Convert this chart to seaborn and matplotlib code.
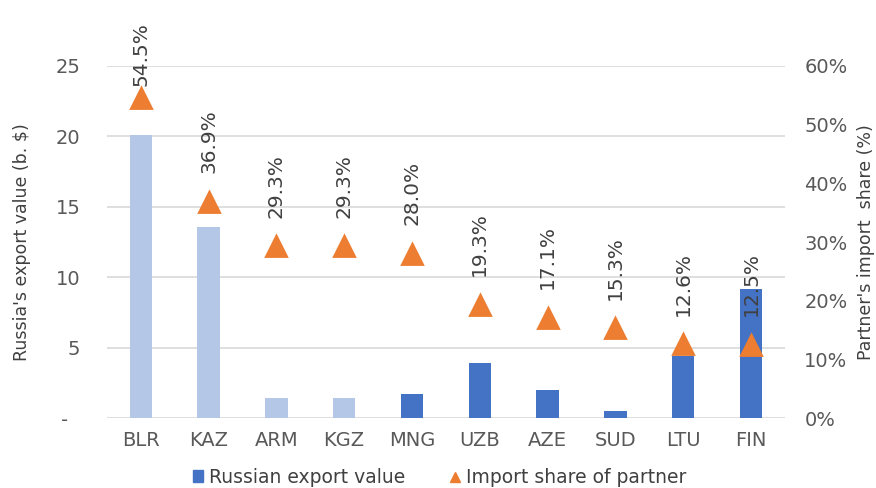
import pandas as pd
import matplotlib.pyplot as plt
import seaborn as sns
from matplotlib.lines import Line2D
from matplotlib.patches import Patch
from matplotlib.ticker import FuncFormatter, PercentFormatter

countries = ['BLR', 'KAZ', 'ARM', 'KGZ', 'MNG', 'UZB', 'AZE', 'SUD', 'LTU', 'FIN']
export_value = [20.1, 13.6, 1.4, 1.4, 1.7, 3.9, 2.0, 0.5, 4.4, 9.2]
import_share = [54.5, 36.9, 29.3, 29.3, 28.0, 19.3, 17.1, 15.3, 12.6, 12.5]
eeu_member = [True, True, True, True, False, False, False, False, False, False]

light_blue = '#b4c7e7'
blue = '#4472c4'
orange = '#ed7d31'
text_col = '#404040'
tick_col = '#595959'

df = pd.DataFrame({'country': countries, 'export': export_value,
                   'share': import_share, 'eeu': eeu_member})
palette = {c: (light_blue if m else blue) for c, m in zip(countries, eeu_member)}

sns.set_style('white')
plt.rcParams['font.family'] = ['DejaVu Sans']

fig = plt.figure(figsize=(8.76, 4.88), dpi=100)
ax = fig.add_axes([0.122, 0.143, 0.774, 0.722])

sns.barplot(data=df, x='country', y='export', hue='country', palette=palette,
            width=0.33, saturation=1, legend=False, linewidth=0, ax=ax, zorder=2)
ax.set_ylim(0, 25)
ax.set_xlim(-0.5, 9.5)
ax.set_yticks([0, 5, 10, 15, 20, 25])
ax.yaxis.set_major_formatter(FuncFormatter(lambda v, p: '-  ' if v == 0 else f'{v:.0f}'))
ax.grid(axis='y', color='#d9d9d9', linewidth=1.2, zorder=0)
ax.set_axisbelow(True)
ax.set_xlabel('')
ax.set_ylabel("Russia's export value (b. $)", fontsize=12.5, color=text_col, labelpad=18)
ax.tick_params(axis='y', length=0, labelsize=14, colors=tick_col, pad=19)
ax.tick_params(axis='x', length=0, labelsize=14, colors=tick_col, pad=9)
for s in ax.spines.values():
    s.set_visible(False)

ax2 = ax.twinx()
sns.pointplot(data=df, x='country', y='share', linestyle='none', markers='^',
              color=orange, markersize=14, ax=ax2)
ax2.set_ylim(0, 60)
ax2.set_xlim(-0.5, 9.5)
ax2.set_yticks(range(0, 61, 10))
ax2.yaxis.set_major_formatter(PercentFormatter(decimals=0))
ax2.set_ylabel("Partner's import  share (%)", fontsize=12.5, color=text_col, labelpad=7)
ax2.tick_params(axis='y', length=0, labelsize=14, colors=tick_col, pad=14)
for s in ax2.spines.values():
    s.set_visible(False)

# value labels above the triangles; ones that hit the top get squeezed down
fig.canvas.draw()
renderer = fig.canvas.get_renderer()
for i, v in enumerate(import_share):
    t = ax2.annotate(f'{v:.1f}%', (i, v), xytext=(0, 20.5), textcoords='offset points',
                     rotation=90, ha='center', va='bottom', fontsize=14.5,
                     color=text_col, annotation_clip=False)
    bb = t.get_window_extent(renderer)
    if bb.y1 > fig.bbox.height - 20:
        t.set_position((0, 9))

handles = [Patch(color=blue, label='Russian export value'),
           Line2D([], [], marker='^', color=orange, linestyle='none',
                  markersize=7.5, label='Import share of partner')]
fig.legend(handles=handles, loc='center', bbox_to_anchor=(0.502, 0.022), ncol=2,
           frameon=False, fontsize=13.5, handlelength=0.55, handleheight=0.55,
           handletextpad=0.3, columnspacing=2.4, labelcolor=text_col)

fig.savefig('out.png', dpi=100)
